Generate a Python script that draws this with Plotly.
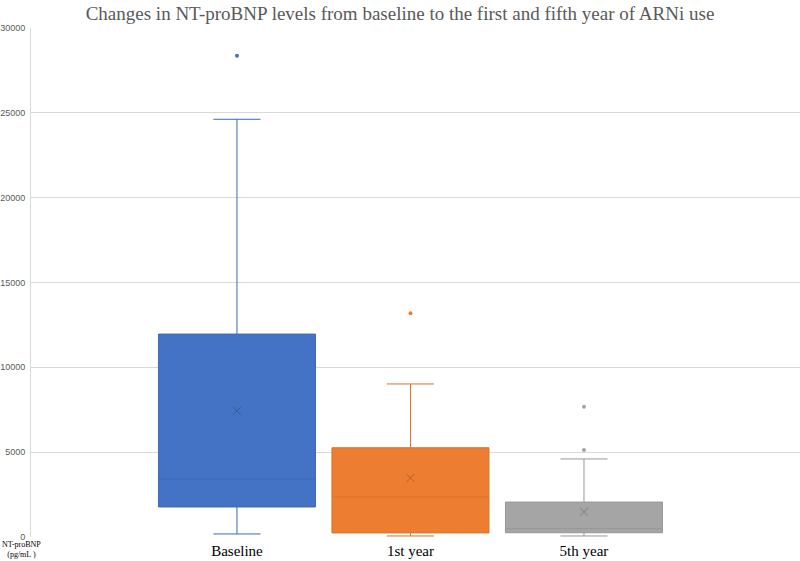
import plotly.graph_objects as go

# values (pg/mL)
groups = ["Baseline", "1st year", "5th year"]
q1 = [1770, 240, 250]
median = [3420, 2360, 490]
q3 = [11960, 5260, 2060]
lower_whisker = [180, 60, 60]
upper_whisker = [24620, 9020, 4600]
means = [7430, 3480, 1490]
outliers = [[28370], [13190], [5130, 7680]]
y_ticks = [0, 5000, 10000, 15000, 20000, 25000, 30000]

fills = ["#4472C4", "#ED7D31", "#A5A5A5"]
edges = ["#3F69B5", "#D9722C", "#979797"]
mean_marks = ["#3A5C9C", "#B85F24", "#7F7F7F"]

fig = go.Figure()
for index, group in enumerate(groups):
    fig.add_trace(go.Box(
        x=[index],
        q1=[q1[index]],
        median=[median[index]],
        q3=[q3[index]],
        lowerfence=[lower_whisker[index]],
        upperfence=[upper_whisker[index]],
        name=group,
        width=0.905,
        whiskerwidth=0.3,
        boxpoints=False,
        fillcolor=fills[index],
        line={"color": edges[index], "width": 1},
        hoverinfo="skip",
    ))
    fig.add_trace(go.Scatter(
        x=[index] * len(outliers[index]),
        y=outliers[index],
        mode="markers",
        marker={"color": fills[index], "size": 4},
        hoverinfo="skip",
    ))
    fig.add_trace(go.Scatter(
        x=[index],
        y=[means[index]],
        mode="markers",
        marker={"symbol": "x-thin-open", "size": 8, "color": mean_marks[index],
                "line": {"color": mean_marks[index], "width": 1}},
        hoverinfo="skip",
    ))

fig.update_layout(
    width=800,
    height=561,
    showlegend=False,
    plot_bgcolor="white",
    paper_bgcolor="white",
    margin={"l": 31, "r": 0, "t": 28, "b": 24},
    title={
        "text": "Changes in NT-proBNP levels from baseline to the first and fifth year of ARNi use",
        "x": 0.5,
        "xanchor": "center",
        "y": 0.976,
        "yanchor": "middle",
        "font": {"family": "Liberation Serif", "size": 19, "color": "#595959"},
    },
    annotations=[{
        "text": "NT-proBNP<br>(pg/mL )",
        "xref": "paper",
        "yref": "paper",
        "x": -0.012,
        "y": -0.046,
        "xanchor": "center",
        "yanchor": "bottom",
        "borderpad": 0,
        "showarrow": False,
        "font": {"family": "Liberation Serif", "size": 8, "color": "#000000"},
    }],
)
fig.update_xaxes(
    range=[-1.187, 3.245],
    tickvals=[0, 1, 2],
    ticktext=groups,
    showgrid=False,
    zeroline=False,
    showline=False,
    ticks="",
    ticklabelstandoff=3,
    tickfont={"family": "Liberation Serif", "size": 15, "color": "#000000"},
    automargin=False,
)
fig.update_yaxes(
    range=[0, 30000],
    tickvals=y_ticks,
    tickformat="d",
    showgrid=True,
    gridcolor="#D9D9D9",
    gridwidth=1,
    zeroline=False,
    showline=True,
    linecolor="#D9D9D9",
    ticks="",
    ticklabelstandoff=3,
    tickfont={"family": "Liberation Sans", "size": 9, "color": "#595959"},
    automargin=False,
)

fig.write_html(
    "out.html",
    config={"displayModeBar": False},
    post_script="document.body.style.margin='0';",
)
